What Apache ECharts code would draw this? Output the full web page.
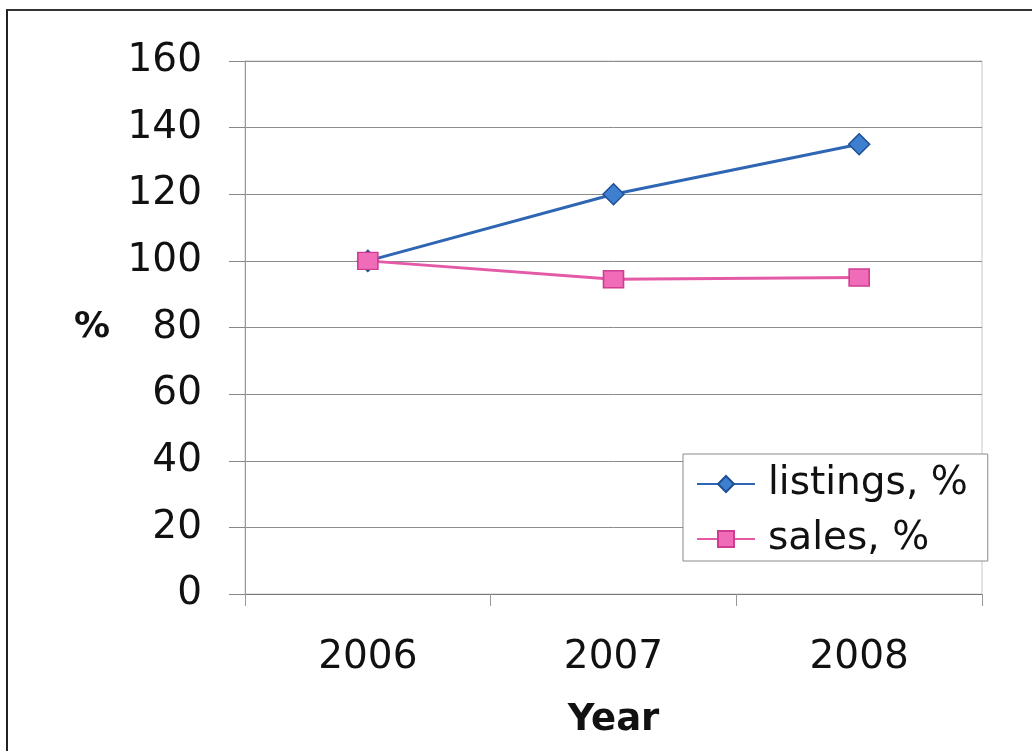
<!DOCTYPE html>
<html>
<head>
<meta charset="utf-8">
<script src="https://cdn.jsdelivr.net/npm/echarts@6/dist/echarts.min.js"></script>
<style>
html,body{margin:0;padding:0;background:#fff;}
#frame{position:absolute;left:6px;top:9px;width:1040px;height:760px;border-left:2px solid #222;border-top:2px solid #333;box-sizing:border-box;}
#chart{position:absolute;left:0;top:0;width:1032px;height:751px;}
</style>
</head>
<body>
<div id="frame"></div>
<div id="chart"></div>
<script>
var years = ['2006', '2007', '2008'];
var listings = [100, 120, 135];
var sales = [100, 94.5, 95];
var yTicks = {min: 0, max: 160, interval: 20};

var chart = echarts.init(document.getElementById('chart'), null, {renderer: 'canvas'});
var font = 'DejaVu Sans';
chart.setOption({
  backgroundColor: 'transparent',
  animation: false,
  grid: {left: 245, right: 50, top: 61, bottom: 157, show: true, borderColor: '#c8c8c8', borderWidth: 1, backgroundColor: 'transparent'},
  legend: {
    orient: 'vertical',
    left: 683, top: 454,
    backgroundColor: '#fff',
    borderColor: '#8a8a8a', borderWidth: 1,
    padding: [8, 20, 0, 13],
    itemWidth: 58, itemHeight: 20, itemGap: 11,
    textStyle: {fontFamily: font, fontSize: 39, color: '#111', lineHeight: 44, padding: [0, 0, 0, 8]},
    data: ['listings, %', 'sales, %']
  },
  xAxis: {
    type: 'category',
    data: years,
    boundaryGap: true,
    name: 'Year',
    nameLocation: 'middle',
    nameGap: 108,
    nameTextStyle: {fontFamily: font, fontSize: 37, fontWeight: 'bold', color: '#111'},
    axisLine: {show: true, lineStyle: {color: '#777', width: 1}},
    axisTick: {show: true, length: 12, alignWithLabel: false, lineStyle: {color: '#999'}},
    axisLabel: {fontFamily: font, fontSize: 39, color: '#111', margin: 44},
    splitLine: {show: false}
  },
  yAxis: {
    type: 'value',
    min: yTicks.min, max: yTicks.max, interval: yTicks.interval,
    name: '%',
    nameLocation: 'middle',
    nameRotate: 0,
    nameGap: 135,
    nameTextStyle: {fontFamily: font, fontSize: 36, fontWeight: 'bold', color: '#111'},
    axisLine: {show: true, lineStyle: {color: '#999', width: 1}},
    axisTick: {show: true, length: 16, lineStyle: {color: '#888'}},
    axisLabel: {fontFamily: font, fontSize: 39, color: '#111', margin: 43},
    splitLine: {show: true, lineStyle: {color: '#8c8c8c', width: 1}}
  },
  series: [
    {
      name: 'listings, %',
      type: 'line',
      data: listings,
      symbol: 'diamond',
      symbolSize: 21,
      lineStyle: {color: '#2f66b3', width: 3},
      itemStyle: {color: '#3f7fd0', borderColor: '#1f4f94', borderWidth: 1.5},
      z: 3
    },
    {
      name: 'sales, %',
      type: 'line',
      data: sales,
      symbol: 'rect',
      symbolSize: [20, 17],
      lineStyle: {color: '#e45aa6', width: 3},
      itemStyle: {color: '#f06cb8', borderColor: '#d03d90', borderWidth: 1.5},
      z: 4
    }
  ]
});
</script>
</body>
</html>
